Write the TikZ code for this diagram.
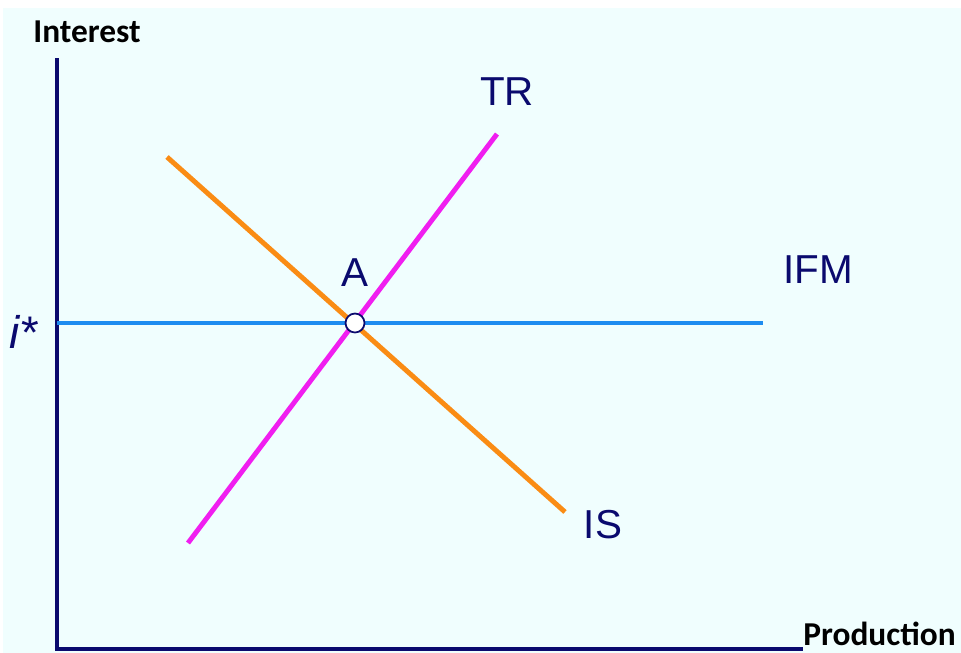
\documentclass[tikz,border=0pt]{standalone}
\usepackage{fontspec}
\setmainfont{Liberation Sans}
\newfontfamily\axisfont{Carlito}
\definecolor{bgcyan}{HTML}{F0FEFE}
\definecolor{axisnavy}{HTML}{0A0A6E}
\definecolor{ifmblue}{HTML}{1E8CF0}
\definecolor{trpink}{HTML}{F01EF0}
\definecolor{isorange}{HTML}{FA8C14}
\begin{document}
\begin{tikzpicture}[x=0.02cm, y=-0.02cm, line cap=butt]
      \tikzset{axislabel/.style={font=\axisfont\bfseries\fontsize{19}{19}\selectfont, inner sep=0pt},
        curvelabel/.style={font=\fontsize{23}{23}\selectfont, inner sep=0pt, text=axisnavy}}
      \useasboundingbox (0,0) rectangle (961,653);
      \fill[bgcyan] (3,8) rectangle (961,653);
      % axes
      \coordinate (o) at (57,649);
      \coordinate (ytop) at (57,58);
      \coordinate (xend) at (803,649);
      \draw[axisnavy, line width=2.2pt] (ytop) -- (o) -- (xend);
      \node[axislabel, anchor=base west] (yl) at (33,42) {Interest};
      \node[axislabel, anchor=base west] (xl) at (803,645) {Production};
      % curves
      \coordinate (ifm1) at (57,323);
      \coordinate (ifm2) at (763,323);
      \coordinate (tr1) at (188,543);
      \coordinate (tr2) at (497,134);
      \coordinate (is1) at (167,157);
      \coordinate (is2) at (565,512);
      \draw[ifmblue, line width=2.8pt] (ifm1) -- (ifm2);
      \draw[isorange, line width=2.8pt] (is1) -- (is2);
      \draw[trpink, line width=2.8pt] (tr1) -- (tr2);
      \node[draw=axisnavy, fill=white, circle, line width=1pt, minimum size=0.38cm, inner sep=0pt] (a) at (355,323) {};
      % labels
      \node[curvelabel] (al) at (355,273) {A};
      \node[curvelabel] (trl) at (507,92) {TR};
      \node[curvelabel] (isl) at (603,525) {IS};
      \node[curvelabel] (ifml) at (818,270) {IFM};
      \node[curvelabel, font=\itshape\fontsize{26}{26}\selectfont] (istar) at (23,332) {$\mathit{i}$*};
    \end{tikzpicture}
\end{document}
